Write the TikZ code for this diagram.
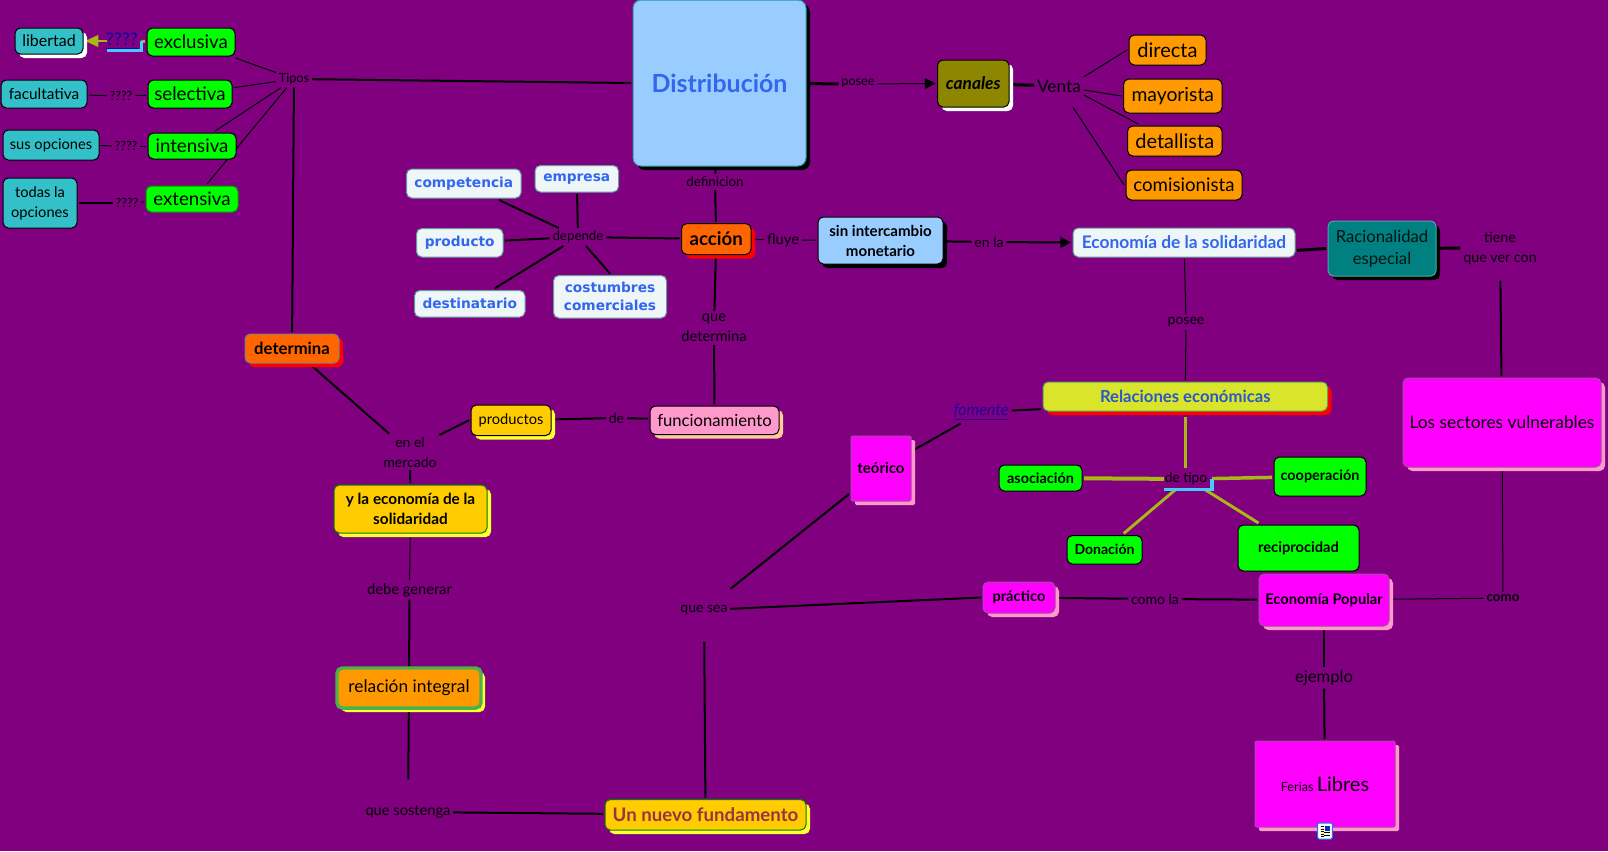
\documentclass[tikz,border=0pt]{standalone}
\usepackage{fontspec}
\setmainfont{Lato}
\newfontfamily\dejav{DejaVu Sans}
\usetikzlibrary{shadows,arrows.meta,backgrounds}
\definecolor{bgp}{HTML}{800080}
\definecolor{tealb}{HTML}{33C0C8}
\definecolor{grn}{HTML}{00FF00}
\definecolor{orn}{HTML}{FF9900}
\definecolor{ornr}{HTML}{FF6600}
\definecolor{skyb}{HTML}{99CCFF}
\definecolor{blu}{HTML}{3366EE}
\definecolor{icew}{HTML}{EEF6F8}
\definecolor{mag}{HTML}{FF00FF}
\definecolor{pinks}{HTML}{FF99CC}
\definecolor{gold}{HTML}{FFCC00}
\definecolor{yel}{HTML}{FFFF33}
\definecolor{oliv}{HTML}{A9B813}
\definecolor{cyn}{HTML}{44CCFF}
\definecolor{lnk}{HTML}{220099}
\definecolor{limey}{HTML}{D9E52B}
\definecolor{maroonish}{HTML}{993344}
\definecolor{cream}{HTML}{FFF8C8}
\tikzset{
  fs/.style={font=\fontsize{#1}{15}\selectfont},
  fb/.style={font=\fontsize{#1}{15}\selectfont\bfseries},
  fd/.style={font=\dejav\fontsize{10.3}{13.5}\selectfont\bfseries},
  box/.style={draw=black,line width=.75pt,rounded corners=4pt,align=center,inner sep=0pt,outer sep=1.5pt,text=black},
  shad/.style={copy shadow={draw=none,fill=#1,opacity=1,shadow xshift=3pt,shadow yshift=-3pt}},
  lbl/.style={inner sep=2.2pt,outer sep=0pt,align=center,text=black,fs=10.5},
  thinl/.style={line width=.75pt},
  medl/.style={line width=1.5pt},
  thkl/.style={line width=2.25pt},
  oll/.style={line width=2.2pt,draw=oliv},
  tip/.style={-{Triangle[length=8pt,width=8pt]}},
  sharpbox/.style={rounded corners=1pt,draw=#1},
  ice/.style={fill=icew,draw=black!30!teal!60!white,text=blu},
}
\newcommand\bx[7]{%
  \pgfmathsetmacro\cxx{(#2+#4)/2}\pgfmathsetmacro\cyy{(#3+#5)/2}%
  \pgfmathsetmacro\wdd{(#4-#2)*0.75}\pgfmathsetmacro\htt{(#5-#3)*0.75}%
  \node[box,#6,minimum width=\wdd pt,minimum height=\htt pt] (#1) at (\cxx,\cyy) {#7};}
\pgfdeclarelayer{lines}
\pgfsetlayers{lines,main}
\begin{document}
\begin{tikzpicture}[x=.75pt,y=-.75pt]
\useasboundingbox (0,0) rectangle (1608,851);

% left column
\bx{libertad}{15}{28}{83}{54}{fill=tealb,shad=white,fs=12}{libertad}
\bx{exclusiva}{147}{28}{235}{56}{fill=grn,fs=14}{exclusiva}
\bx{selectiva}{148}{80}{232}{108}{fill=grn,fs=14}{selectiva}
\bx{intensiva}{148}{133}{236}{159}{fill=grn,fs=14}{intensiva}
\bx{extensiva}{146}{186}{238}{212}{fill=grn,draw=green!60!black,fs=14}{extensiva}
\bx{facultativa}{1}{80}{87}{108}{fill=tealb,fs=11.5}{facultativa}
\bx{susop}{3}{130}{99}{160}{fill=tealb,fs=11}{sus opciones}
\bx{todas}{3}{178}{77}{228}{fill=tealb,fs=11}{todas la\\opciones}
\node[lbl,inner sep=0pt,minimum width=26pt,minimum height=14pt,font=\fontsize{13}{14}\selectfont\bfseries,text=lnk] (q1) at (124,41) {\hspace*{-3pt}\underline{????}};
\node[lbl,fs=9.5] (q2) at (121,96) {????};
\node[lbl,fs=9.5] (q3) at (126,146) {????};
\node[lbl,fs=9.5] (q4) at (127,203) {????};
\node[lbl,fs=9.5] (tipos) at (294,79) {Tipos};

% centre top
\bx{dist}{633}{0}{806}{166}{fill=skyb,draw=teal!70!skyb,rounded corners=6pt,shad=black,text=blu,font=\fontsize{18.7}{24}\selectfont\bfseries}{Distribución}
\node[lbl,fs=9.5] (posee1) at (858,84) {\raisebox{2.2pt}{posee}};
\bx{canales}{937.5}{60}{1009}{107}{fill=olive!100!black,shad=white,font=\fontsize{13}{15}\selectfont\bfseries\itshape}{canales}
\node[lbl,fs=13] (venta) at (1059,86) {Venta};
\bx{directa}{1129}{35}{1206}{65}{fill=orn,fs=15}{directa}
\bx{mayorista}{1123.5}{79}{1222}{113}{fill=orn,fs=14.5}{mayorista}
\bx{detallista}{1127.5}{126}{1222}{156}{fill=orn,fs=15}{detallista}
\bx{comisionista}{1126}{170}{1242}{200}{fill=orn,fs=14}{comisionista}

\bx{competencia}{406.5}{169}{521}{198}{ice,fd}{competencia}
\bx{empresa}{535}{165.5}{618.5}{192}{ice,fd}{empresa}
\bx{producto}{416.5}{228.5}{503}{257}{ice,fd}{producto}
\bx{destinatario}{414.5}{290.5}{525}{317}{ice,fd}{destinatario}
\bx{costumbres}{553.5}{275.5}{666.5}{318}{ice,fd}{costumbres\\comerciales}
\node[lbl,fs=10] (depende) at (578,237) {depende};
\bx{accion}{681.5}{223.5}{751}{254.5}{fill=ornr,shad=red,fb=14}{acción}
\node[lbl,fs=10] (definicion) at (715,182) {definicion};
\node[lbl,fs=11] (fluye) at (783,240) {fluye};
\bx{sin}{818}{217}{943}{264}{fill=skyb,shad=black,fb=11.3}{sin intercambio\\monetario}
\node[lbl] (enla) at (989,242) {en la};
\bx{economia}{1073}{228}{1295}{257}{ice,fb=13}{Economía de la solidaridad}
\bx{racional}{1328}{221}{1436}{276}{fill=teal,draw=teal!70!white,shad=black,text=black!85!teal,font=\fontsize{12.5}{16.5}\selectfont}{Racionalidad\\especial}
\node[lbl,minimum height=49pt,fs=10.7] (tiene) at (1500,248) {tiene\\que ver con};
\node[lbl] (posee2) at (1186,322) {posee};

% middle left
\bx{determina}{245}{334}{339}{363}{fill=ornr,draw=gray,shad=red,fb=12.5}{determina}
\node[lbl] (enel) at (410,452) {en el\\mercado};
\bx{productos}{471}{405}{551}{435.5}{fill=gold,shad=yel,fs=11}{productos}
\node[lbl] (de) at (616.5,418) {de};
\bx{funcion}{650}{406}{779}{434.5}{fill=pinks,shad=orange!40!white,fs=12.5}{funcionamiento}
\node[lbl,fs=11] (quedet) at (714,328) {que\\determina};
\bx{yla}{334}{485}{487}{533}{fill=gold,draw=green!50!black,shad=yel,fb=11.5}{y la economía de la\\solidaridad}
\node[lbl,fs=11] (debe) at (409.5,590) {debe generar};
\bx{relacion}{337}{668}{481}{708}{fill=orn,draw=green!40!gray,line width=2.6pt,shad=yel,fs=13}{relación integral}
\node[lbl,fs=11,minimum height=49pt] (sostenga) at (408,812) {que sostenga};
\bx{nuevo}{605}{799.5}{806}{830}{fill=gold,draw=green!50!black,shad=yel,text=maroonish,fb=14}{Un nuevo fundamento}
\node[lbl,minimum height=48pt] (quesea) at (704,610) {que sea};

% right part
\bx{relaciones}{1043}{382}{1327.5}{411}{fill=limey,draw=green!30!gray,shad=red,text=blu!85!black,fb=12.5}{Relaciones económicas}
\node[lbl,inner sep=2.5pt,font=\fontsize{12}{13}\selectfont\itshape,text=lnk] (fomente) at (981,412) {\underline{fomente}};
\bx{teorico}{851}{436}{911}{501}{fill=mag,sharpbox=violet!70!white,shad=pinks,fb=11.2}{teórico}
\bx{asociacion}{999}{465}{1082}{491}{fill=grn,fb=10.8}{asociación}
\bx{cooperacion}{1274}{457}{1366}{496}{fill=grn,fb=10.8}{cooperación}
\bx{donacion}{1067}{535.5}{1142}{564}{fill=grn,fb=10.5}{Donación}
\bx{reciprocidad}{1238}{525}{1359}{571}{fill=grn,fb=11}{reciprocidad}
\node[lbl,inner sep=0pt,minimum width=36pt,minimum height=16pt,fs=10.3] (detipo) at (1188,479) {\hspace*{-3pt}de tipo};
\bx{sectores}{1403}{378}{1601}{467}{fill=mag,draw=violet!70!white,shad=pinks,fs=13}{Los sectores vulnerables}
\bx{popular}{1259}{574}{1389}{626}{fill=mag,draw=violet!70!white,shad=pinks,fb=11}{Economía Popular}
\bx{practico}{983}{582}{1055}{613}{fill=mag,draw=violet!70!white,shad=pinks,fb=11}{práctico}
\node[lbl] (comola) at (1155,599) {como la};
\node[lbl,font=\fontsize{10}{12}\selectfont\bfseries] (como) at (1503,598) {como};
\node[lbl,fs=12.5] (ejemplo) at (1324,678) {ejemplo};
\bx{ferias}{1255}{741}{1395}{827}{fill=mag,sharpbox=violet!70!white,shad=pinks,fs=9.5}{Ferias {\fontsize{15}{15}\selectfont Libres}}
\node[draw=blue!50!cyan,fill=white,line width=.75pt,rounded corners=1pt,inner sep=0pt,minimum width=11pt,minimum height=12pt] (icon) at (1325,831) {};
\fill[cream] (1320,825.5) rectangle (1330,836.5);
\foreach \yy in {826.5,829,831.5,834,836}{\draw[black,line width=.55pt] (1320.5,\yy) -- (1324,\yy);}
\foreach \yy in {832.5,835}{\draw[black,line width=.55pt] (1324,\yy) -- (1330,\yy);}
\fill[blue!60!teal] (1325,825.5) rectangle (1330,830.5);

\begin{pgfonlayer}{lines}
\fill[bgp] (0,0) rectangle (1608,851);
\draw[thinl] (tipos) -- (exclusiva);
\draw[thinl] (tipos) -- (selectiva);
\draw[thinl] (tipos) -- (intensiva.33);
\draw[thinl] (tipos) -- (extensiva.45);
\draw[medl] (tipos) -- (dist.west);
\draw[medl] (tipos) -- (determina);
\draw[oll] (exclusiva) -- (q1);
\draw[oll,-{Triangle[length=10pt,width=8.5pt]}] (q1) -- (libertad.east);
\draw[thinl] (facultativa) -- (q2);
\draw[thinl] (q2) -- (selectiva);
\draw[thinl] (susop) -- (q3);
\draw[thinl] (q3) -- (intensiva);
\draw[medl] (todas) -- (q4);
\draw[thinl] (q4) -- (extensiva);
\draw[thkl] (dist) -- (posee1);
\draw[thinl,tip] (posee1) -- (canales.west);
\draw[thkl] (canales) -- (venta);
\draw[thinl] (venta.north east) -- (directa.west);
\draw[thinl] (venta) -- (mayorista.west);
\draw[thinl] (venta.-20) -- (detallista.155);
\draw[thinl,shorten <=11pt] (venta) -- (comisionista.west);
\draw[medl] (dist) -- (definicion);
\draw[medl] (definicion) -- (accion);
\draw[medl] (depende) -- (competencia);
\draw[medl] (depende) -- (empresa);
\draw[medl] (depende) -- (producto);
\draw[medl] (depende) -- (destinatario);
\draw[medl] (depende) -- (costumbres.north);
\draw[medl] (depende) -- (accion);
\draw[thinl] (accion) -- (fluye);
\draw[thinl] (fluye) -- (sin);
\draw[medl] (sin) -- (enla);
\draw[medl,tip] (enla) -- (economia.west);
\draw[thkl] (economia.-4) -- (racional.west);
\draw[thkl] (racional) -- (tiene);
\draw[medl] (tiene) -- (sectores);
\draw[thinl] (economia) -- (posee2);
\draw[thinl] (posee2) -- (relaciones);
\draw[medl] (accion) -- (quedet);
\draw[medl] (quedet) -- (funcion);
\draw[medl] (determina) -- (enel);
\draw[medl] (enel.30) -- (productos.west);
\draw[medl] (productos) -- (de);
\draw[medl] (de) -- (funcion);
\draw[medl] (enel) -- (yla);
\draw[thinl] (yla) -- (debe);
\draw[medl] (debe) -- (relacion);
\draw[medl] (relacion) -- (sostenga);
\draw[medl] (sostenga) -- (nuevo);
\draw[medl] (quesea) -- (nuevo);
\draw[medl] (quesea) -- (teorico);
\draw[medl] (quesea) -- (practico.west);
\draw[medl] (fomente) -- (relaciones.185);
\draw[medl] (fomente) -- (teorico);
\draw[oll,shorten <=3pt] (relaciones.south) -- (relaciones.south |- detipo.north);
\draw[oll,line width=3pt] (detipo) -- (asociacion);
\draw[oll,line width=2.6pt] (detipo) -- (cooperacion);
\draw[oll] (detipo) -- (donacion);
\draw[oll] (detipo) -- (reciprocidad);
\draw[medl] (practico) -- (comola);
\draw[medl] (comola) -- (popular);
\draw[thinl] (popular) -- (como);
\draw[thinl] (como) -- (sectores);
\draw[medl] (popular) -- (ejemplo);
\draw[medl] (ejemplo) -- (ferias);
\end{pgfonlayer}
\draw[cyn,line width=2.4pt] (q1.south west) -- (q1.south east) -- (q1.east);
\draw[cyn,line width=2.4pt] (detipo.south west) -- (detipo.south east) -- (detipo.east);
\end{tikzpicture}
\end{document}
